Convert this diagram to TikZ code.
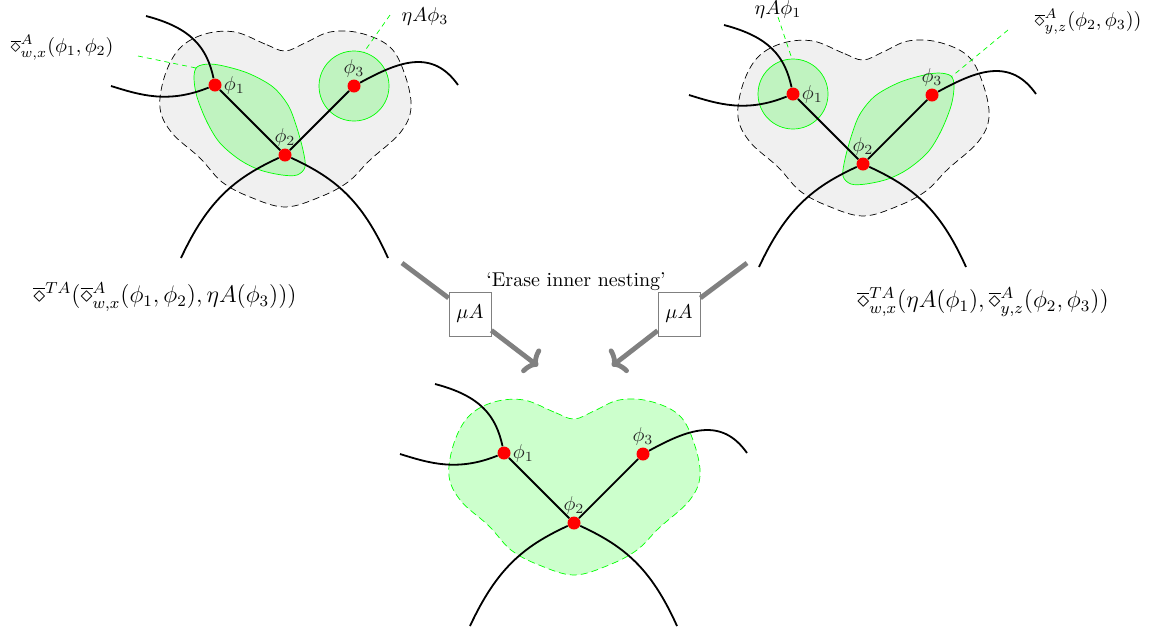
\documentclass[tikz,border=0pt]{standalone}
\usepackage{amsmath}
\usetikzlibrary{arrows.meta}
\newcommand{\odia}{\overline{\diamond}}
\newcommand{\blobshape}[1]{\path[#1] plot[smooth cycle, tension=0.6] coordinates {(285,51) (265,44) (235,32) (205,34) (180,48) (165,75) (160,108) (172,133) (200,158) (222,182) (250,197) (285,207) (320,197) (348,182) (370,160) (400,133) (411,108) (405,75) (390,47) (360,33) (330,32) (305,43)};}
\newcommand{\lensshape}[1]{\path[#1] plot[smooth cycle, tension=0.55] coordinates {(197,67) (210,64) (228,67) (250,74) (273,87) (288,105) (296,125) (303,150) (305,167) (297,175) (282,175) (260,170) (240,160) (220,143) (207,122) (197,97) (194,78)};}
\newcommand{\skel}{%
  \node[dot,label={[lab]right:$\phi_1$}] (p1) at (215,85) {};
  \node[dot,label={[lab]above:$\phi_2$}] (p2) at (285,155) {};
  \node[dot,label={[lab]above:$\phi_3$}] (p3) at (354,86) {};
  \coordinate (e1) at (146,16);
  \coordinate (e2) at (111,86);
  \coordinate (e3) at (458,85);
  \coordinate (e4) at (181,258);
  \coordinate (e5) at (388,258);
  \draw[wire] (e1) .. controls (192,28) and (207,48) .. (p1);
  \draw[wire] (e2) .. controls (140,95) and (168,104) .. (p1);
  \draw[wire] (p3) .. controls (398,62) and (432,48) .. (e3);
  \draw[wire] (p2) .. controls (235,178) and (208,200) .. (e4);
  \draw[wire] (p2) .. controls (335,178) and (362,200) .. (e5);
  \draw[wire] (p1) -- (p2) -- (p3);
}
\begin{document}
\begin{tikzpicture}[x=0.5pt,y=-0.5pt,
  dot/.style={circle,fill=red,inner sep=0pt,minimum size=6.5pt},
  lab/.style={inner sep=0.8pt,text=black!85},
  wire/.style={line width=0.9pt},
  greyblob/.style={draw=black,fill=black!6,line width=0.35pt,dash pattern=on 3.5pt off 2pt},
  greenblob/.style={draw=green,fill=green,fill opacity=0.2,line width=0.35pt,dash pattern=on 3.5pt off 2pt},
  inner/.style={draw=green,fill=green,fill opacity=0.2,line width=0.35pt},
  guide/.style={draw=green,line width=0.35pt,dash pattern=on 2.5pt off 2pt},
  muarrow/.style={draw=gray,line width=2.4pt,-{To[length=5.5pt,width=15pt,round]}},
  mubox/.style={draw=gray,fill=white,line width=0.4pt,minimum width=21pt,minimum height=22pt,inner sep=0pt},
  biglabel/.style={font=\large,inner sep=0pt},
  smalllabel/.style={inner sep=0pt}]
\useasboundingbox (0,0) rectangle (1154,634);

% left diagram
\begin{scope}[name prefix=L-]
  \blobshape{greyblob}
  \lensshape{inner}
  \path[inner] (354,86) circle (35);
  \skel
  \coordinate (g1a) at (138,56);
  \coordinate (g1b) at (196,68);
  \coordinate (g2a) at (390,15);
  \coordinate (g2b) at (364,52);
  \draw[guide] (g1a) -- (g1b);
  \draw[guide] (g2a) -- (g2b);
\end{scope}

% right diagram
\begin{scope}[shift={(578,9)},name prefix=R-]
  \blobshape{greyblob}
  \begin{scope}[shift={(570,0)},xscale=-1]
    \lensshape{inner}
  \end{scope}
  \path[inner] (215,85) circle (35);
  \skel
  \coordinate (g1a) at (200,8);
  \coordinate (g1b) at (214,50);
  \coordinate (g2a) at (430,21);
  \coordinate (g2b) at (373,68);
  \draw[guide] (g1a) -- (g1b);
  \draw[guide] (g2a) -- (g2b);
\end{scope}

% bottom diagram
\begin{scope}[shift={(289,368)},name prefix=B-]
  \blobshape{greenblob}
  \skel
\end{scope}

% labels
\node[smalllabel] (tl) at (62,48) {$\odia^{A}_{w,x}(\phi_1,\phi_2)$};
\node[smalllabel] (tm) at (425,16) {$\eta A\phi_3$};
\node[smalllabel] (tr1) at (778,9) {$\eta A\phi_1$};
\node[smalllabel] (tr2) at (1088,22) {$\odia^{A}_{y,z}(\phi_2,\phi_3))$};
\node[biglabel] (bl) at (165,297) {$\odia^{TA}(\odia^{A}_{w,x}(\phi_1,\phi_2),\eta A(\phi_3)))$};
\node[biglabel] (br) at (983,302) {$\odia^{TA}_{w,x}(\eta A(\phi_1),\odia^{A}_{y,z}(\phi_2,\phi_3))$};
\node[smalllabel] (er) at (576,282) {`Erase inner nesting'};

% arrows with mu boxes
\coordinate (a1s) at (402,263);
\coordinate (a1e) at (538,366);
\coordinate (a2s) at (747,263);
\coordinate (a2e) at (612,366);
\node[mubox] (mu1) at (470,314) {$\mu A$};
\node[mubox] (mu2) at (679,314) {$\mu A$};
\draw[muarrow] (a1s) -- (mu1) -- (a1e);
\draw[muarrow] (a2s) -- (mu2) -- (a2e);
\end{tikzpicture}
\end{document}
